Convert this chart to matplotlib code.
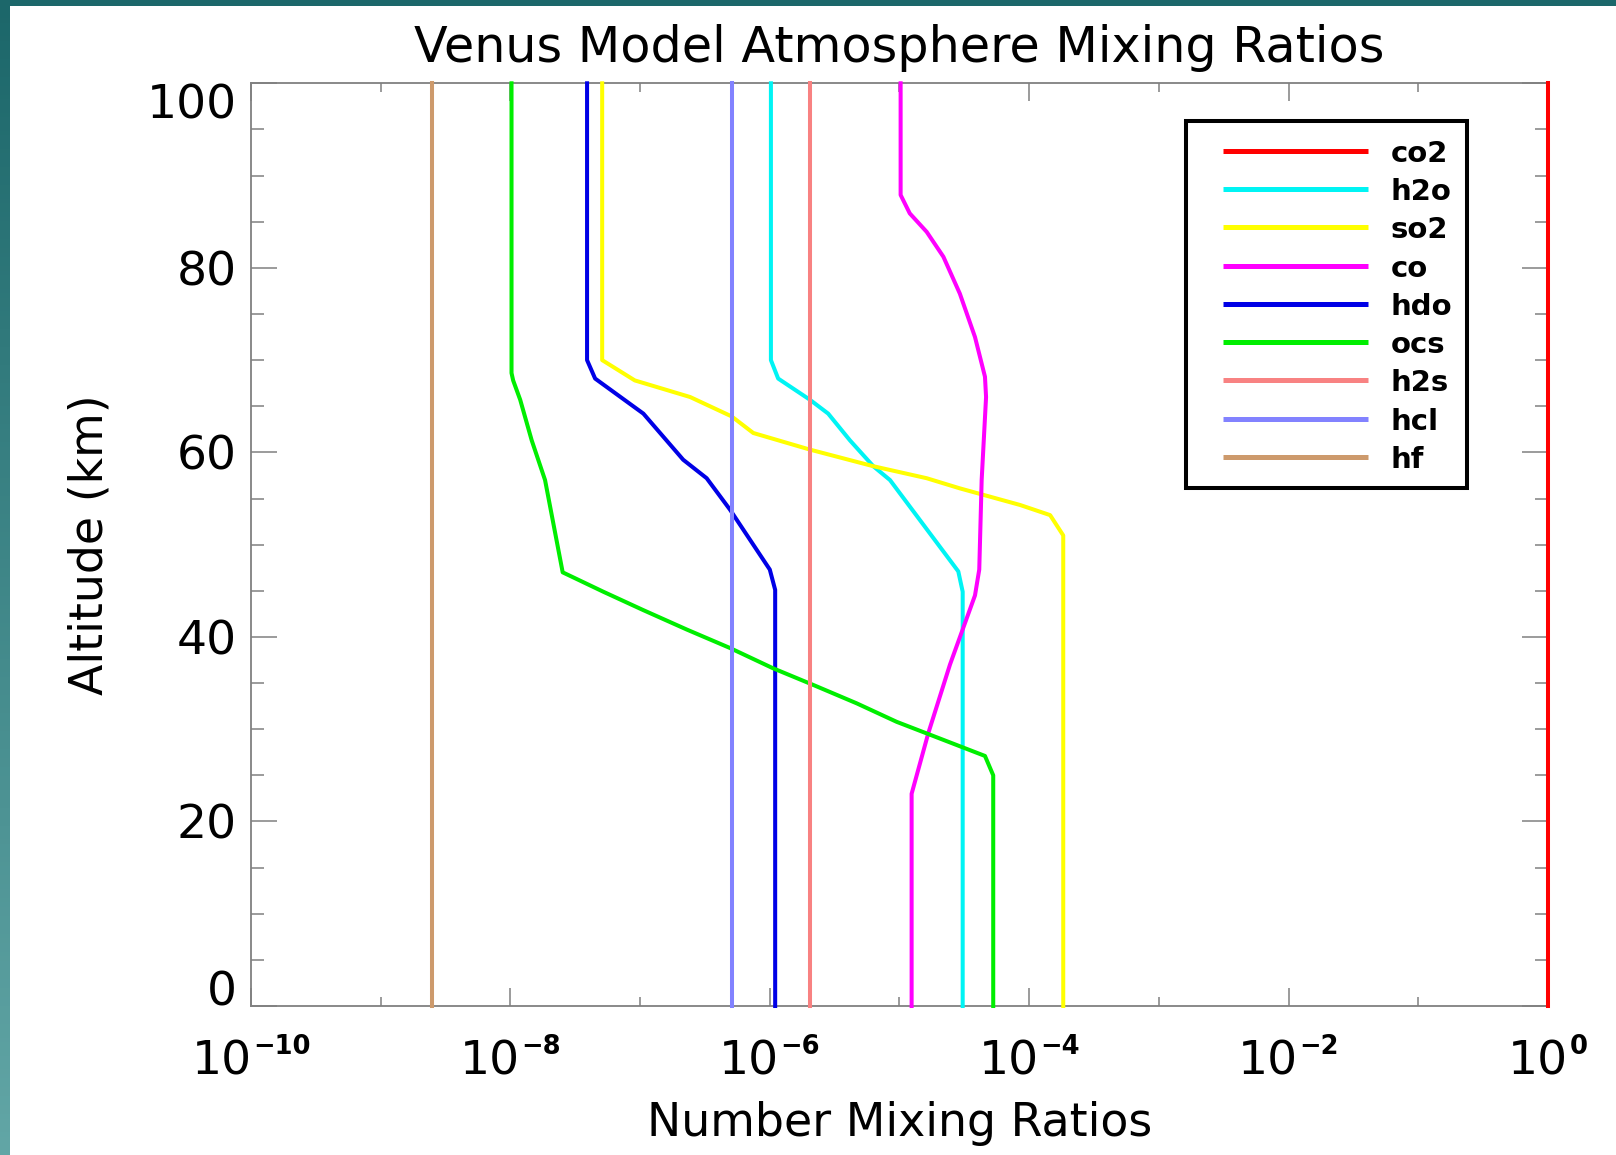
import numpy as np
import matplotlib
matplotlib.use("Agg")
import matplotlib.pyplot as plt
from matplotlib.patches import Rectangle
from matplotlib.offsetbox import TextArea, HPacker, VPacker, DrawingArea, AnnotationBbox

plt.rcParams['font.family'] = ['DejaVu Sans']

# ---- model profiles: altitude (km) and number mixing ratio ----
species = ["co2", "h2o", "so2", "co", "hdo", "ocs", "h2s", "hcl", "hf"]
colors = ["#ff0000", "#00f4f4", "#ffff00", "#ff00ff", "#0000e6",
          "#00ee00", "#f88282", "#8282ff", "#cd9a6c"]

co2_alt = [100, 0]
co2_vmr = [1.0, 1.0]

h2o_alt = [100, 70, 68.0, 65.7, 64.2, 61.3, 58.5, 57.0, 47.1, 44.9, 0]
h2o_vmr = [1.02e-6, 1.02e-6, 1.16e-6, 2.04e-6, 2.82e-6, 4.15e-6, 6.28e-6,
           8.45e-6, 2.84e-5, 3.07e-5, 3.07e-5]

so2_alt = [100, 70, 67.8, 66.0, 63.9, 62.1, 60.3, 58.5, 57.2, 56.1, 54.3, 53.2, 51.0, 0]
so2_vmr = [5.1e-8, 5.1e-8, 9.1e-8, 2.43e-7, 5.08e-7, 7.46e-7, 2.04e-6, 6.28e-6,
           1.62e-5, 2.92e-5, 8.5e-5, 1.45e-4, 1.83e-4, 1.83e-4]

co_alt = [100, 87.9, 85.9, 83.9, 81.2, 77.2, 72.5, 68.2, 66.0, 57.0, 47.3, 44.5,
          37.0, 29.6, 23.0, 0]
co_vmr = [1.02e-5, 1.02e-5, 1.2e-5, 1.62e-5, 2.18e-5, 2.92e-5, 3.82e-5, 4.56e-5,
          4.65e-5, 4.3e-5, 4.12e-5, 3.82e-5, 2.45e-5, 1.67e-5, 1.24e-5, 1.24e-5]

hdo_alt = [100, 70, 68.0, 64.2, 59.2, 57.2, 53.8, 47.3, 45.1, 0]
hdo_vmr = [3.9e-8, 3.9e-8, 4.5e-8, 1.06e-7, 2.15e-7, 3.26e-7, 4.93e-7, 1.0e-6,
           1.1e-6, 1.1e-6]

ocs_alt = [100, 68.6, 67.8, 65.7, 61.3, 57.0, 47.0, 44.9, 42.9, 40.8, 38.8, 36.6,
           34.8, 32.8, 30.8, 29.4, 27.1, 25.0, 0]
ocs_vmr = [1.02e-8, 1.02e-8, 1.05e-8, 1.19e-8, 1.46e-8, 1.85e-8, 2.53e-8, 5.2e-8,
           1.06e-7, 2.29e-7, 4.93e-7, 1.06e-6, 2.16e-6, 4.68e-6, 9.5e-6, 1.72e-5,
           4.56e-5, 5.28e-5, 5.28e-5]

h2s_alt = [100, 0]
h2s_vmr = [2.04e-6, 2.04e-6]

hcl_alt = [100, 0]
hcl_vmr = [5.1e-7, 5.1e-7]

hf_alt = [100, 0]
hf_vmr = [2.5e-9, 2.5e-9]

profiles = {
    "co2": (co2_alt, co2_vmr), "h2o": (h2o_alt, h2o_vmr), "so2": (so2_alt, so2_vmr),
    "co": (co_alt, co_vmr), "hdo": (hdo_alt, hdo_vmr), "ocs": (ocs_alt, ocs_vmr),
    "h2s": (h2s_alt, h2s_vmr), "hcl": (hcl_alt, hcl_vmr), "hf": (hf_alt, hf_vmr),
}

x_exponents = [-10, -8, -6, -4, -2, 0]
x_minor_exponents = [-9, -7, -5, -3, -1]
y_major = [0, 20, 40, 60, 80, 100]
y_minor = [5, 10, 15, 25, 30, 35, 45, 50, 55, 65, 70, 75, 85, 90, 95]

# ---- figure and framed backdrop ----
W, H = 1616, 1155
fig = plt.figure(figsize=(W / 100, H / 100), dpi=100)

bg = fig.add_axes([0, 0, 1, 1], zorder=-5)
t = np.linspace(0, 1, 256)[:, None, None]
top_rgb = np.array([28, 103, 106]) / 255
bot_rgb = np.array([98, 166, 166]) / 255
bg.imshow(top_rgb * (1 - t) + bot_rgb * t, extent=[0, 1, 0, 1], aspect='auto',
          origin='upper')
bg.add_patch(Rectangle((10 / W, 0), 1, 1 - 6 / H, facecolor='white', edgecolor='none'))
bg.set_xlim(0, 1)
bg.set_ylim(0, 1)
bg.axis('off')

ax = fig.add_axes([251 / W, 1 - 1006 / H, 1297 / W, 922.7 / H])
ax.set_xscale('log')
ax.set_xlim(1e-10, 1)
ax.set_ylim(0, 100)

for name, col in zip(species, colors):
    alt, vmr = profiles[name]
    ax.plot(vmr, alt, color=col, lw=2.9, solid_joinstyle='round', clip_on=False,
            zorder=3)

# ---- axes styling ----
grey = '#808080'
for sp in ax.spines.values():
    sp.set_color(grey)
    sp.set_linewidth(1.3)

ax.set_xticks([10.0 ** e for e in x_exponents])
ax.set_xticks([10.0 ** e for e in x_minor_exponents], minor=True)
ax.tick_params(axis='x', which='both', labelbottom=False, direction='in',
               top=True, bottom=True, color=grey, width=1.1)
ax.tick_params(axis='x', which='major', length=13)
ax.tick_params(axis='x', which='minor', length=6.5)

ax.set_yticks(y_major)
ax.set_yticks(y_minor, minor=True)
ax.set_yticklabels([str(v) for v in y_major])
ax.tick_params(axis='y', which='both', direction='in', left=True, right=True,
               color=grey, width=1.1)
ax.tick_params(axis='y', which='major', length=18.7, labelsize=34, pad=10)
ax.tick_params(axis='y', which='minor', length=9.4)
yt = ax.yaxis.get_major_ticks()
yt[0].label1.set_verticalalignment('baseline')
yt[-1].label1.set_verticalalignment('top')

# decade labels written as 10 with a small raised exponent
for e in x_exponents:
    base = VPacker(children=[DrawingArea(1, 4),
                             TextArea("10", textprops=dict(fontsize=34))],
                   align="left", pad=0, sep=0)
    sup = TextArea(str(e).replace("-", "\u2212"),
                   textprops=dict(fontsize=18.5, fontweight='bold'))
    pack = HPacker(children=[base, sup], align="top", pad=0, sep=1)
    ab = AnnotationBbox(pack, (10.0 ** e, 0), xycoords=('data', 'axes fraction'),
                        xybox=(0, -20), boxcoords='offset points',
                        box_alignment=(0.5, 1), frameon=False,
                        annotation_clip=False, pad=0)
    ax.add_artist(ab)

ax.set_xlabel("Number Mixing Ratios", fontsize=33)
ax.xaxis.set_label_coords(0.5, -0.103)
ax.set_ylabel("Altitude (km)", fontsize=33)
ax.yaxis.set_label_coords(-0.107, 0.5)
ax.set_title("Venus Model Atmosphere Mixing Ratios", fontsize=35.5, pad=15.5)

# ---- boxed key ----
box_l, box_b, box_w, box_h = 0.7209, 0.5614, 0.2166, 0.3977
ax.add_patch(Rectangle((box_l, box_b), box_w, box_h, transform=ax.transAxes,
                       facecolor='white', edgecolor='black', lw=2.9, zorder=5))
row0, drow = 0.9270, 0.04151
for i, (name, col) in enumerate(zip(species, colors)):
    y = row0 - i * drow
    ax.plot([0.7494, 0.8612], [y, y], transform=ax.transAxes, color=col, lw=3.6,
            solid_capstyle='butt', zorder=6, clip_on=False)
    ax.text(0.8785, y - 11 / 922.7, name, transform=ax.transAxes, fontsize=21,
            fontweight='bold', va='baseline', ha='left', zorder=6)

fig.savefig('out.png', dpi=100)
